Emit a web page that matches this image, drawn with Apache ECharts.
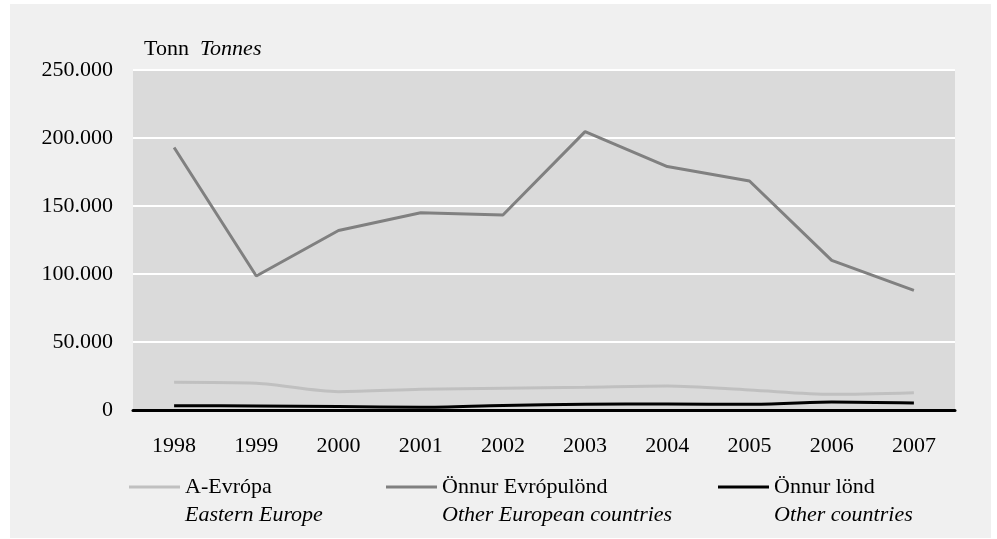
<!DOCTYPE html>
<html>
<head>
<meta charset="utf-8">
<script src="https://cdn.jsdelivr.net/npm/echarts@6/dist/echarts.min.js"></script>
<style>
html,body{margin:0;padding:0;background:#ffffff;}
#chart{width:997px;height:539px;}
</style>
</head>
<body>
<div id="chart"></div>
<script>
const years = ['1998','1999','2000','2001','2002','2003','2004','2005','2006','2007'];
const seriesNames = ['A-Evrópa','Önnur Evrópulönd','Önnur lönd'];
const seriesNamesEn = ['Eastern Europe','Other European countries','Other countries'];
const eastEurope = [20400, 19600, 13500, 15200, 16000, 16700, 17600, 14700, 11500, 12700];
const otherEurope = [193000, 98500, 132000, 145000, 143400, 204700, 179000, 168400, 110000, 88000];
const otherCountries = [3200, 2900, 2500, 2000, 3400, 4200, 4400, 4200, 5900, 5100];
const yTicks = [0, 50000, 100000, 150000, 200000, 250000];

const FONT = "'Liberation Serif','Times New Roman',serif";
const colors = ['#c0c0c0', '#808080', '#000000'];
const enMap = {};
seriesNames.forEach((n, i) => enMap[n] = seriesNamesEn[i]);

function fmt(v) {
  if (v === 0) return '0';
  return String(Math.round(v / 1000)) + '.000';
}

const legendLefts = [129, 386, 718];
const legends = seriesNames.map((n, i) => ({
  data: [n],
  left: legendLefts[i],
  top: 448,
  padding: 0,
  icon: 'rect',
  itemWidth: 51,
  itemHeight: 3,
  selectedMode: false,
  formatter: name => '{b| }\n{n|' + name + '}\n{e|' + enMap[name] + '}',
  textStyle: {
    fontFamily: FONT,
    fontSize: 22,
    fontWeight: 'normal',
    color: '#000',
    rich: {
      b: {fontFamily: FONT, fontSize: 22, lineHeight: 28, color: '#000', fontWeight: 'normal'},
      n: {fontFamily: FONT, fontSize: 22, lineHeight: 28, color: '#000', fontWeight: 'normal'},
      e: {fontFamily: FONT, fontSize: 22, lineHeight: 28, color: '#000', fontWeight: 'normal', fontStyle: 'italic'}
    }
  }
}));

const chart = echarts.init(document.getElementById('chart'));
chart.setOption({
  animation: false,
  backgroundColor: '#ffffff',
  textStyle: {fontFamily: FONT},
  graphic: [{
    type: 'rect',
    z: -10,
    silent: true,
    shape: {x: 10, y: 4, width: 981, height: 534},
    style: {fill: '#f0f0f0'}
  }],
  title: {
    text: '{a|Tonn}  {b|Tonnes}',
    left: 144,
    top: 38,
    padding: 0,
    textStyle: {
      fontWeight: 'normal',
      fontFamily: FONT,
      fontSize: 22,
      rich: {
        a: {fontFamily: FONT, fontSize: 22, color: '#000', fontWeight: 'normal'},
        b: {fontFamily: FONT, fontSize: 22, color: '#000', fontWeight: 'normal', fontStyle: 'italic'}
      }
    }
  },
  legend: legends,
  grid: {
    left: 133, right: 42, top: 70, bottom: 129,
    show: true, backgroundColor: '#dadada', borderWidth: 0
  },
  xAxis: {
    type: 'category',
    data: years,
    boundaryGap: true,
    axisLine: {show: true, lineStyle: {color: '#000', width: 3}},
    axisTick: {show: false},
    axisLabel: {fontFamily: FONT, fontSize: 22, color: '#000', margin: 25},
    splitLine: {show: false}
  },
  yAxis: {
    type: 'value',
    min: yTicks[0],
    max: yTicks[yTicks.length - 1],
    interval: yTicks[1] - yTicks[0],
    axisLine: {show: false},
    axisTick: {show: false},
    axisLabel: {fontFamily: FONT, fontSize: 22, color: '#000', margin: 20, formatter: fmt},
    splitLine: {show: true, lineStyle: {color: '#ffffff', width: 2}}
  },
  series: [
    {name: seriesNames[0], type: 'line', data: eastEurope, smooth: 0.3, showSymbol: false,
     color: colors[0], lineStyle: {color: colors[0], width: 3}, z: 3},
    {name: seriesNames[1], type: 'line', data: otherEurope, smooth: false, showSymbol: false,
     color: colors[1], lineStyle: {color: colors[1], width: 3}, z: 4},
    {name: seriesNames[2], type: 'line', data: otherCountries, smooth: 0.3, showSymbol: false,
     color: colors[2], lineStyle: {color: colors[2], width: 3}, z: 5}
  ]
});
</script>
</body>
</html>
